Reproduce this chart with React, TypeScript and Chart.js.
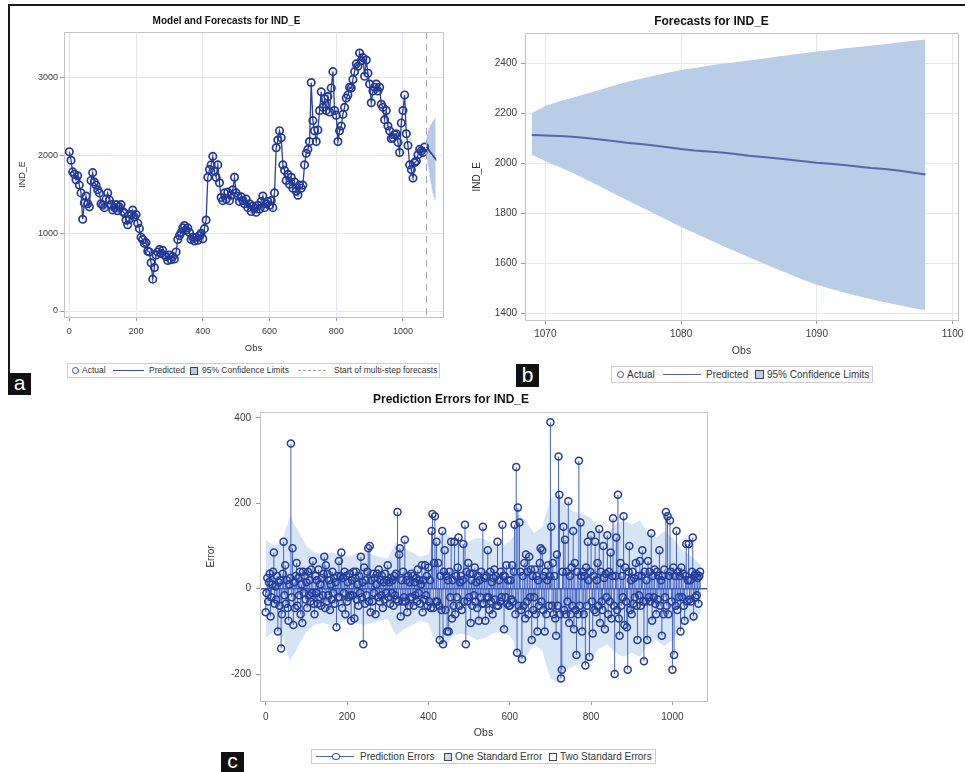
import React, { useEffect, useRef } from "react";
import { Chart, registerables } from "chart.js";

Chart.register(...registerables);

const FONT = '"Liberation Sans", Arial, Helvetica, sans-serif';

// ---------- Panel a: Model and Forecasts ----------
const titleA = "Model and Forecasts for IND_E";
const aXTicks = [0, 200, 400, 600, 800, 1000];
const aYTicks = [0, 1000, 2000, 3000];
const actualStep = 5; // observation spacing of the sampled actual values
const actualValues = [
  2050, 1940, 1790, 1760, 1690, 1740, 1620, 1520, 1180, 1390, 1480, 1380, 1340, 1680, 1780, 1660, 1620, 1560, 1520, 1380,
  1360, 1330, 1440, 1520, 1430, 1370, 1300, 1330, 1370, 1290, 1340, 1370, 1280, 1260, 1170, 1110, 1180, 1240, 1300, 1210,
  1240, 1130, 1060, 950, 920, 870, 880, 770, 760, 620, 410, 560, 720, 760, 790, 740, 780, 720, 700, 650,
  720, 660, 700, 670, 760, 920, 970, 1010, 1070, 1100, 1040, 1070, 1010, 920, 950, 900, 950, 910, 970, 1000,
  930, 1060, 1170, 1720, 1820, 1880, 1990, 1800, 1720, 1880, 1650, 1460, 1420, 1520, 1440, 1530, 1420, 1490, 1560, 1720,
  1520, 1480, 1410, 1470, 1420, 1380, 1440, 1330, 1380, 1280, 1350, 1320, 1270, 1360, 1310, 1410, 1480, 1330, 1380, 1410,
  1360, 1420, 1330, 1520, 2100, 2200, 2320, 2230, 1880, 1810, 1680, 1760, 1630, 1720, 1580, 1660, 1540, 1490, 1620, 1580,
  1620, 1880, 2030, 2080, 2180, 2940, 2450, 2320, 2180, 2330, 2580, 2820, 2620, 2730, 2580, 2760, 2560, 2870, 3080, 2580,
  2520, 2180, 2320, 2380, 2530, 2620, 2740, 2780, 2880, 2870, 2980, 3080, 3180, 3150, 3320, 3220, 3260, 3020, 3230, 3060,
  2920, 2680, 2830, 2880, 2920, 2830, 2880, 2660, 2620, 2460, 2580, 2380, 2320, 2220, 2230, 2270, 2280, 2170, 2040, 2420,
  2580, 2780, 2280, 2130, 1880, 1820, 1710, 1910, 1930, 2010, 2080, 2060, 2040, 2110,
];
const forecastStart = 1069;

// ---------- Panel b: Forecasts ----------
const titleB = "Forecasts for IND_E";
const bXTicks = [1070, 1080, 1090, 1100];
const bYTicks = [1400, 1600, 1800, 2000, 2200, 2400];
const forecastObs = [
  1069, 1070, 1071, 1072, 1073, 1074, 1075, 1076, 1077, 1078, 1079, 1080, 1081, 1082, 1083,
  1084, 1085, 1086, 1087, 1088, 1089, 1090, 1091, 1092, 1093, 1094, 1095, 1096, 1097, 1098,
];
const forecastPredicted = [
  2113, 2111, 2109, 2106, 2101, 2095, 2089, 2082, 2077, 2071, 2064, 2057, 2051, 2047, 2043,
  2037, 2030, 2025, 2020, 2014, 2008, 2002, 1998, 1993, 1987, 1981, 1977, 1971, 1963, 1955,
];
const forecastUpper = [
  2200, 2229, 2247, 2262, 2278, 2293, 2310, 2325, 2338, 2350, 2362, 2373, 2381, 2390, 2398,
  2404, 2411, 2418, 2426, 2433, 2440, 2447, 2453, 2460, 2466, 2471, 2477, 2484, 2490, 2496,
];
const forecastLower = [
  2035, 2008, 1985, 1962, 1935, 1908, 1880, 1853, 1826, 1800, 1772, 1745, 1720, 1695, 1670,
  1647, 1623, 1600, 1577, 1555, 1533, 1513, 1497, 1482, 1468, 1455, 1443, 1432, 1421, 1411,
];

// ---------- Panel c: Prediction Errors ----------
const titleC = "Prediction Errors for IND_E";
const cXTicks = [0, 200, 400, 600, 800, 1000];
const cYTicks = [-200, 0, 200, 400];
const errorStep = 2; // observation spacing of the sampled errors
const errorValues = [
  -55, -10, 25, -30, 15, 35, -65, -20, 10, 40, 85, -35, 5, -25, 30, -100, 15, -40, 20, -140, -60, 35, 110, -15, 55, -35, 20, -45, -75, 10,
  25, 340, -20, 95, -85, 15, -45, 30, 60, -40, 25, -15, 40, -60, 10, -80, 40, -10, 30, -25, 15, -45, 40, -15, 20, -30, 45, -10, 65, -35,
  -60, 30, -10, 20, -35, 45, -20, 10, -40, 25, -15, 35, 75, -45, 55, -30, 35, -15, 20, -50, 10, -25, 40, -10, 25, -35, 15, -90, 30, -20,
  65, -20, 30, 85, -45, 25, -10, 40, -60, 30, -30, 15, -20, 35, -15, -75, 20, -15, 40, -70, 25, 40, -25, 10, -40, 30, -10, 75, -20, 15,
  -130, 50, -35, 20, -15, 40, 95, -30, 100, -55, 20, -30, 35, -10, 25, -60, 10, 35, -20, 45, -30, 20, -15, 30, -45, 15, -25, 35, -10, 20,
  55, -20, 15, -35, 25, -10, 20, -40, 30, -15, 35, -25, 180, -30, 80, 95, -65, 20, -30, 40, -20, 115, -30, 20, -55, 30, -40, 15, -20, 35,
  -20, 30, -40, 15, -15, 25, -30, 45, -10, 20, -35, 10, 55, -55, 20, -25, 55, -15, 30, -40, 50, -30, 20, -45, 135, 175, -45, 60, 170, -30,
  110, -30, 60, -40, -120, 30, -50, 135, -130, 40, 90, -50, 30, -100, 20, -100, 40, -20, 110, -70, 20, -40, 110, -60, 30, -20, 50, 120, -40, 15,
  30, -50, 20, 105, -30, 150, -130, 40, -30, 60, -20, 35, -80, 20, -40, 35, -15, 50, -30, 15, -45, 30, -75, 20, -20, 40, -35, 145, -35, 25,
  -75, 30, -20, 90, -20, -50, 40, -30, 15, -60, 25, 45, -25, 30, -40, 110, -40, 20, -30, 40, -20, 150, 30, -95, 30, -20, 55, -35, 20, -40,
  -40, 20, -25, 55, -30, 40, 150, -60, 285, -150, 190, -40, 155, 40, -50, -165, 30, -40, 60, -70, 80, -30, 40, -60, 75, -20, 45, -120, 30, -50,
  -20, 45, -60, 30, -100, 20, -40, 60, 95, -30, 90, -50, 30, -100, 40, -60, 20, 55, -40, 30, 390, 145, -40, 60, -60, 30, -70, -110, 80, -40,
  310, 220, -60, -210, -190, 40, 145, -50, 115, -60, 40, -30, 205, -80, 30, -60, 50, -40, 135, -95, 60, -50, -155, 40, -60, 300, -40, 155, 30, -100,
  40, -60, 30, -180, 50, -40, 110, 20, -160, 40, 125, -30, -105, 30, -50, 110, -55, 20, 60, -40, 140, -80, 40, -30, -50, 100, 25, -95, 35, -20,
  125, -60, 40, -30, 85, -70, 30, 165, -40, -200, 30, 120, -50, 220, -70, -110, 60, -40, 30, -20, 170, -85, 50, -30, -90, -190, 40, 100, -50, 20,
  -60, 40, -35, 25, -20, 60, -40, -120, 30, -15, 65, -40, 30, 90, -30, -170, 40, -30, 20, -120, 65, -20, 40, -30, 130, -75, 30, -20, 45, -35,
  -60, 40, -25, 30, 90, -40, 20, -110, 30, -60, 45, -20, 180, -40, 170, -60, 30, 160, 40, -30, -190, 50, -155, 30, -40, 135, -50, 40, -20, 30,
  -100, 50, -20, 35, -40, -75, 30, 105, -30, 20, 105, -25, 20, -30, 40, 120, -65, 30, -20, 35, -15, 25, -35, 30, 40,
];
const seObs = [
  0, 20, 40, 60, 80, 100, 120, 140, 160, 180, 200, 220, 240, 260, 280, 300, 320, 340, 360, 380,
  400, 410, 420, 440, 460, 480, 500, 520, 540, 560, 580, 600, 610, 620, 640, 660, 680, 700, 720, 740,
  760, 780, 800, 820, 840, 860, 880, 900, 920, 940, 960, 980, 1000, 1020, 1040, 1060, 1070,
];
const seHalfWidth = [
  115, 100, 110, 170, 135, 100, 85, 80, 85, 80, 75, 80, 85, 80, 75, 70, 110, 95, 85, 75,
  80, 110, 115, 140, 110, 105, 110, 120, 115, 105, 100, 110, 125, 175, 160, 130, 145, 210, 220, 190,
  180, 175, 165, 140, 130, 150, 160, 150, 160, 130, 120, 135, 120, 95, 80, 65, 55,
];

// ---------- plugins ----------
const plotBox = {
  id: "plotBox",
  afterDraw(chart: any) {
    const { ctx, chartArea: a } = chart;
    ctx.save();
    ctx.strokeStyle = "#c4c4c4";
    ctx.lineWidth = 1;
    ctx.strokeRect(Math.round(a.left) + 0.5, Math.round(a.top) + 0.5, Math.round(a.right - a.left), Math.round(a.bottom - a.top));
    ctx.restore();
  },
};

const startLine = {
  id: "startLine",
  afterDatasetsDraw(chart: any) {
    const { ctx, chartArea: a, scales } = chart;
    const x = Math.round(scales.x.getPixelForValue(forecastStart)) + 0.5;
    ctx.save();
    ctx.strokeStyle = "#a8a8a8";
    ctx.lineWidth = 1;
    ctx.setLineDash([7, 5]);
    ctx.beginPath();
    ctx.moveTo(x, a.top);
    ctx.lineTo(x, a.bottom);
    ctx.stroke();
    ctx.restore();
  },
};

// needles from 0 to each error value + the zero baseline, drawn right after the band dataset (index 1)
const needles = {
  id: "needles",
  afterDatasetDraw(chart: any, args: any) {
    if (args.index !== 1) return;
    const { ctx, chartArea: a, scales } = chart;
    const y0 = scales.y.getPixelForValue(0);
    ctx.save();
    ctx.strokeStyle = "#4262c4";
    ctx.lineWidth = 1;
    ctx.beginPath();
    errorValues.forEach((v, i) => {
      const x = scales.x.getPixelForValue(i * errorStep);
      ctx.moveTo(x, y0);
      ctx.lineTo(x, scales.y.getPixelForValue(v));
    });
    ctx.stroke();
    ctx.strokeStyle = "#3a57b5";
    ctx.lineWidth = 1.5;
    ctx.beginPath();
    ctx.moveTo(a.left, y0);
    ctx.lineTo(a.right, y0);
    ctx.stroke();
    ctx.restore();
  },
};

type AxisCfg = {
  min: number; max: number; ticks: number[]; title: string;
  tickSize: number; titleSize: number; tickPad: number; titlePad: number; fit: number; grid: boolean;
};

function axis(c: AxisCfg, horizontal: boolean) {
  return {
    type: "linear", min: c.min, max: c.max, offset: false,
    afterBuildTicks: (s: any) => { s.ticks = c.ticks.map((v) => ({ value: v })); },
    ticks: { autoSkip: false, maxRotation: 0, color: "#3a3a3a", padding: c.tickPad, font: { family: FONT, size: c.tickSize }, callback: (v: any) => String(v) },
    grid: { offset: false, color: "#e4e8ed", drawOnChartArea: c.grid, tickColor: "#9a9a9a", tickLength: 4 },
    border: { display: false },
    title: {
      display: true, text: c.title, color: "#333", font: { family: FONT, size: c.titleSize },
      padding: horizontal ? { top: 0, bottom: c.titlePad } : { top: c.titlePad, bottom: 0 },
    },
    afterFit: (s: any) => { if (horizontal) s.height = c.fit; else s.width = c.fit; },
  };
}

function baseOptions(title: string, titleSize: number, tPad: { top: number; bottom: number }, padRight: number, x: any, y: any) {
  return {
    responsive: false,
    animation: false,
    events: [],
    layout: { padding: { left: 0, right: padRight, top: 0, bottom: 0 } },
    plugins: {
      legend: { display: false },
      tooltip: { enabled: false },
      title: { display: true, text: title, color: "#111", font: { family: FONT, size: titleSize, weight: "bold" }, padding: tPad },
    },
    scales: { x, y },
  };
}

// ---------- legend ----------
type Item =
  | { kind: "circle"; x: number }
  | { kind: "line"; x1: number; x2: number; color: string; w: number; dash?: boolean; marker?: number }
  | { kind: "square"; x: number; size: number; fill: string }
  | { kind: "text"; x: number; text: string };

function LegendBox(props: { x: number; y: number; w: number; h: number; size: number; items: Item[] }) {
  const { x, y, w, h, size, items } = props;
  const mid = h / 2;
  return (
    <div style={{ position: "absolute", left: x, top: y, width: w, height: h, border: "1px solid #cdcdcd", boxSizing: "border-box", background: "#fff" }}>
      {items.map((it, i) => {
        if (it.kind === "circle") {
          return <div key={i} style={{ position: "absolute", left: it.x - x - 3.5, top: mid - 4.5, width: 5, height: 5, borderRadius: "50%", border: "1.3px solid #3550b3" }} />;
        }
        if (it.kind === "line") {
          return (
            <React.Fragment key={i}>
              <div style={{ position: "absolute", left: it.x1 - x, top: mid - 1 - it.w / 2, width: it.x2 - it.x1, height: 0, borderTop: `${it.w}px ${it.dash ? "dashed" : "solid"} ${it.color}` }} />
              {it.marker !== undefined && (
                <div style={{ position: "absolute", left: it.marker - x - 4, top: mid - 5, width: 6, height: 5, borderRadius: "50%", border: "1.3px solid #2f4aa8", background: "#fff" }} />
              )}
            </React.Fragment>
          );
        }
        if (it.kind === "square") {
          return <div key={i} style={{ position: "absolute", left: it.x - x, top: mid - 1 - it.size / 2, width: it.size, height: it.size, border: "1px solid #444", boxSizing: "border-box", background: it.fill }} />;
        }
        return (
          <div key={i} style={{ position: "absolute", left: it.x - x, top: 0, height: h - 2, lineHeight: `${h - 2}px`, fontSize: size, fontFamily: FONT, color: "#333", whiteSpace: "nowrap" }}>
            {it.text}
          </div>
        );
      })}
    </div>
  );
}

function Tag(props: { x: number; y: number; w: number; h: number; text: string }) {
  return (
    <div style={{ position: "absolute", left: props.x, top: props.y, width: props.w, height: props.h, background: "#111", color: "#fff", fontFamily: FONT, fontSize: 21, lineHeight: `${props.h - 2}px`, textAlign: "center" }}>
      {props.text}
    </div>
  );
}

export default function App() {
  const refA = useRef<HTMLCanvasElement>(null);
  const refB = useRef<HTMLCanvasElement>(null);
  const refC = useRef<HTMLCanvasElement>(null);

  useEffect(() => {
    const fPred = forecastObs.map((x, i) => ({ x, y: forecastPredicted[i] }));
    const fUp = forecastObs.map((x, i) => ({ x, y: forecastUpper[i] }));
    const fLo = forecastObs.map((x, i) => ({ x, y: forecastLower[i] }));

    const chartA = new Chart(refA.current as HTMLCanvasElement, {
      type: "scatter",
      data: {
        datasets: [
          {
            label: "Actual",
            data: actualValues.map((v, i) => ({ x: i * actualStep, y: v })),
            showLine: true, borderColor: "#2b3f95", borderWidth: 1.3,
            pointRadius: 3.7, pointBorderWidth: 1.7, pointBorderColor: "#21389a", pointBackgroundColor: "rgba(0,0,0,0)", order: 0,
          },
          { label: "Predicted", data: fPred, showLine: true, borderColor: "#2f3f86", borderWidth: 1.3, pointRadius: 0, order: 1 },
          { label: "Upper", data: fUp, showLine: true, borderWidth: 0, borderColor: "rgba(0,0,0,0)", pointRadius: 0, backgroundColor: "#b4cae6", fill: "+1", order: 3 },
          { label: "Lower", data: fLo, showLine: true, borderWidth: 0, borderColor: "rgba(0,0,0,0)", pointRadius: 0, fill: false, order: 4 },
        ],
      } as any,
      options: baseOptions(titleA, 10, { top: 7, bottom: 5 }, 7,
        axis({ min: -16, max: 1120, ticks: aXTicks, title: "Obs", tickSize: 9, titleSize: 9.5, tickPad: 5, titlePad: 6, fit: 43, grid: true }, true),
        axis({ min: -77, max: 3590, ticks: aYTicks, title: "IND_E", tickSize: 9, titleSize: 9, tickPad: 2, titlePad: 7.5, fit: 54, grid: true }, false),
      ) as any,
      plugins: [plotBox, startLine],
    });

    const chartB = new Chart(refB.current as HTMLCanvasElement, {
      type: "scatter",
      data: {
        datasets: [
          { label: "Predicted", data: fPred, showLine: true, borderColor: "#5566aa", borderWidth: 2, pointRadius: 0, order: 0 },
          { label: "Upper", data: fUp, showLine: true, borderWidth: 0, borderColor: "rgba(0,0,0,0)", pointRadius: 0, backgroundColor: "#b8cde6", fill: "+1", order: 3 },
          { label: "Lower", data: fLo, showLine: true, borderWidth: 0, borderColor: "rgba(0,0,0,0)", pointRadius: 0, fill: false, order: 4 },
        ],
      } as any,
      options: baseOptions(titleB, 12, { top: 6, bottom: 5 }, 17,
        axis({ min: 1068.5, max: 1100.4, ticks: bXTicks, title: "Obs", tickSize: 10, titleSize: 10.5, tickPad: 4, titlePad: 2.2, fit: 40, grid: true }, true),
        axis({ min: 1372, max: 2520, ticks: bYTicks, title: "IND_E", tickSize: 10, titleSize: 10, tickPad: 4, titlePad: 6, fit: 60, grid: true }, false),
      ) as any,
      plugins: [plotBox],
    });

    const errPts = errorValues.map((v, i) => ({ x: i * errorStep, y: v }));
    const chartC = new Chart(refC.current as HTMLCanvasElement, {
      type: "scatter",
      data: {
        datasets: [
          { label: "Prediction Errors", data: errPts, pointRadius: 3.5, pointBorderWidth: 1.5, pointBorderColor: "#233c9a", pointBackgroundColor: "rgba(0,0,0,0)", order: 0 },
          { label: "SE upper", data: seObs.map((x, i) => ({ x, y: seHalfWidth[i] })), showLine: true, borderWidth: 0, borderColor: "rgba(0,0,0,0)", pointRadius: 0, backgroundColor: "#d6e5f5", fill: "+1", order: 4 },
          { label: "SE lower", data: seObs.map((x, i) => ({ x, y: -seHalfWidth[i] })), showLine: true, borderWidth: 0, borderColor: "rgba(0,0,0,0)", pointRadius: 0, fill: false, order: 5 },
        ],
      } as any,
      options: baseOptions(titleC, 12, { top: 4.8, bottom: 4.8 }, 13,
        axis({ min: -14, max: 1085, ticks: cXTicks, title: "Obs", tickSize: 10, titleSize: 10.5, tickPad: 6, titlePad: 3.7, fit: 42, grid: false }, true),
        axis({ min: -263, max: 414, ticks: cYTicks, title: "Error", tickSize: 10, titleSize: 10, tickPad: 5, titlePad: 10, fit: 65, grid: false }, false),
      ) as any,
      plugins: [needles, plotBox],
    });

    return () => {
      chartA.destroy();
      chartB.destroy();
      chartC.destroy();
    };
  }, []);

  return (
    <div style={{ position: "absolute", left: 0, top: 0, width: 965, height: 772, overflow: "hidden", background: "#fff", fontFamily: FONT }}>
      <div style={{ position: "absolute", left: 8, top: 4, width: 957, height: 2, background: "#1a1a1a" }} />
      <div style={{ position: "absolute", left: 8, top: 4, width: 2, height: 369, background: "#1a1a1a" }} />
      <canvas ref={refA} width={440} height={352} style={{ position: "absolute", left: 10, top: 8 }} />
      <canvas ref={refB} width={510} height={352} style={{ position: "absolute", left: 465, top: 8 }} />
      <canvas ref={refC} width={525} height={355} style={{ position: "absolute", left: 195, top: 388 }} />

      <LegendBox x={67} y={363} w={373} h={15} size={8.5} items={[
        { kind: "circle", x: 74 },
        { kind: "text", x: 81, text: "Actual" },
        { kind: "line", x1: 112, x2: 143, color: "#3b4f9e", w: 1.2 },
        { kind: "text", x: 148, text: "Predicted" },
        { kind: "square", x: 189, size: 8, fill: "#b4cae6" },
        { kind: "text", x: 201, text: "95% Confidence Limits" },
        { kind: "line", x1: 297, x2: 325, color: "#a0a0a0", w: 1, dash: true },
        { kind: "text", x: 333, text: "Start of multi-step forecasts" },
      ]} />

      <LegendBox x={611} y={366} w={262} h={17} size={10} items={[
        { kind: "circle", x: 619 },
        { kind: "text", x: 626, text: "Actual" },
        { kind: "line", x1: 662, x2: 700, color: "#5566aa", w: 1.5 },
        { kind: "text", x: 705, text: "Predicted" },
        { kind: "square", x: 754, size: 9, fill: "#b8cde6" },
        { kind: "text", x: 766, text: "95% Confidence Limits" },
      ]} />

      <LegendBox x={311} y={749} w={345} h={15} size={10} items={[
        { kind: "line", x1: 315, x2: 353, color: "#4566c4", w: 1.5, marker: 335 },
        { kind: "text", x: 359, text: "Prediction Errors" },
        { kind: "square", x: 443, size: 8, fill: "#c7daf0" },
        { kind: "text", x: 454, text: "One Standard Error" },
        { kind: "square", x: 548, size: 8, fill: "#ffffff" },
        { kind: "text", x: 559, text: "Two Standard Errors" },
      ]} />

      <Tag x={8} y={373} w={23} h={22} text="a" />
      <Tag x={516} y={364} w={23} h={23} text="b" />
      <Tag x={221} y={752} w={23} h={20} text="c" />
    </div>
  );
}
